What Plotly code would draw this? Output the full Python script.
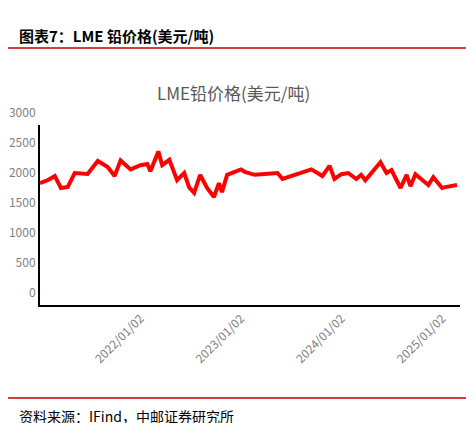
import plotly.graph_objects as go

dates = ["2021-01-02", "2021-01-31", "2021-02-25", "2021-03-19", "2021-04-13", "2021-05-08",
         "2021-06-24", "2021-07-31", "2021-09-05", "2021-09-30", "2021-10-22", "2021-11-27",
         "2022-01-02", "2022-01-27", "2022-02-07", "2022-03-08", "2022-03-22", "2022-04-17",
         "2022-05-15", "2022-06-10", "2022-06-28", "2022-07-16", "2022-08-07", "2022-09-01",
         "2022-09-26", "2022-10-14", "2022-10-25", "2022-11-13", "2023-01-02", "2023-01-16",
         "2023-02-21", "2023-05-15", "2023-06-02", "2023-09-15", "2023-10-25", "2023-11-20",
         "2023-12-08", "2024-01-02", "2024-01-27", "2024-02-25", "2024-03-14", "2024-03-29",
         "2024-05-23", "2024-06-14", "2024-07-02", "2024-08-04", "2024-08-26", "2024-09-09",
         "2024-09-27", "2024-11-13", "2024-12-01", "2025-01-02", "2025-01-09", "2025-02-25"]
prices = [2033, 2083, 2150, 1950, 1967, 2200,
          2183, 2400, 2300, 2150, 2410, 2260,
          2330, 2350, 2230, 2560, 2330, 2420,
          2080, 2200, 1960, 1870, 2170, 1950,
          1800, 2030, 1880, 2170, 2260, 2220,
          2170, 2200, 2100, 2260, 2150, 2320,
          2100, 2180, 2200, 2100, 2170, 2080,
          2380, 2200, 2250, 1950, 2170, 1980,
          2180, 2000, 2130, 1950, 1960, 2000]

tick_dates = ["2021-01-02", "2022-01-02", "2023-01-02", "2024-01-02", "2025-01-02"]
tick_text = ["2021/01/02", "2022/01/02", "2023/01/02", "2024/01/02", "2025/01/02"]

fig = go.Figure(go.Scatter(x=dates, y=prices, mode="lines",
                           line=dict(color="#ff0000", width=4)))

fig.update_xaxes(range=["2021-01-02", "2025-03-08"], tickvals=tick_dates, ticktext=tick_text,
                 tickangle=-45, showline=True, linecolor="black", linewidth=2,
                 showgrid=False, ticks="", automargin=False,
                 tickfont=dict(color="#7f7f7f", size=12))
fig.update_yaxes(range=[0, 3000], dtick=500, showline=True, linecolor="black", linewidth=2,
                 showgrid=False, zeroline=False, ticks="", ticklabelshift=-12, automargin=False,
                 tickfont=dict(color="#7f7f7f", size=12))

# paper y = (297 - pixel_y) / 180 for plot area from y=117 to y=297
fig.update_layout(
    width=474, height=423, plot_bgcolor="white", paper_bgcolor="white",
    margin=dict(l=32, r=22, t=117, b=126), showlegend=False,
    font=dict(family="Noto Sans CJK SC"),
    annotations=[
        dict(text="<b>图表7：LME 铅价格(美元/吨)</b>", x=-0.055, y=1.5, xref="paper", yref="paper",
             xanchor="left", yanchor="middle", showarrow=False,
             font=dict(size=15, color="black")),
        dict(text="LME铅价格(美元/吨)", x=0.46, y=1.178, xref="paper", yref="paper",
             xanchor="center", yanchor="middle", showarrow=False,
             font=dict(size=17, color="#595959")),
        dict(text="资料来源：IFind，中邮证券研究所", x=-0.055, y=-0.617, xref="paper", yref="paper",
             xanchor="left", yanchor="middle", showarrow=False,
             font=dict(size=14, color="black")),
    ],
    shapes=[
        dict(type="line", xref="paper", yref="paper", x0=-0.08, x1=1.06,
             y0=1.428, y1=1.428, line=dict(color="#c00000", width=1.5)),
        dict(type="line", xref="paper", yref="paper", x0=-0.08, x1=1.06,
             y0=-0.517, y1=-0.517, line=dict(color="#c00000", width=1.5)),
    ],
)

fig.write_html("out.html")
